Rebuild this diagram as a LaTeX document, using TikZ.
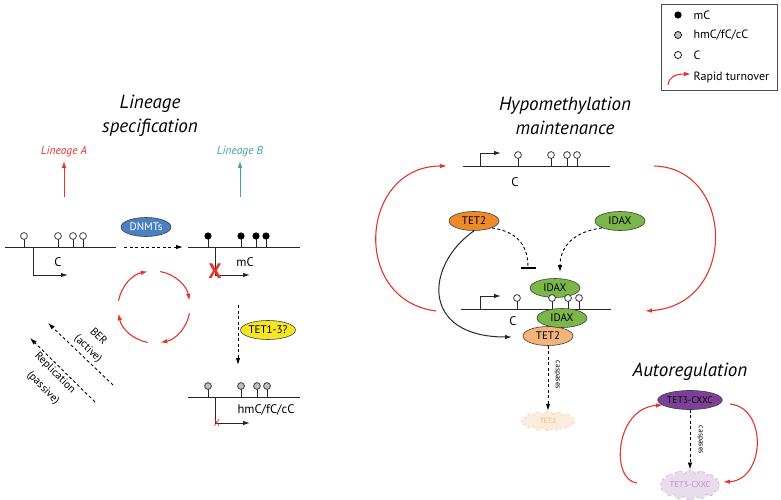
\documentclass[tikz,border=0pt]{standalone}
\usepackage{fontspec}
\setmainfont{PT Sans}
\usetikzlibrary{arrows.meta,shapes.geometric,shapes.symbols,positioning}

\definecolor{turnred}{HTML}{E8332A}
\definecolor{linteal}{HTML}{3AA89A}
\definecolor{dnmtblue}{HTML}{4A80C2}
\definecolor{tetyellow}{HTML}{F4E525}
\definecolor{tetorange}{HTML}{EF8A2A}
\definecolor{tetlight}{HTML}{F3B37C}
\definecolor{idaxgreen}{HTML}{7AB648}
\definecolor{cxxcpurple}{HTML}{7E3F99}

\tikzset{
  dnaline/.style={line width=1pt, black!85},
  prom/.style={line width=1pt, black!85, ->},
  stem/.style={line width=0.7pt, black!85},
  prot/.style={ellipse, draw=black!75, line width=0.6pt, minimum width=50pt,
    minimum height=19pt, inner sep=0pt, font=\fontsize{11}{12}\selectfont},
  faded/.style={cloud, cloud puffs=16, aspect=2.6, dashed, line width=0.5pt,
    minimum width=54pt, minimum height=20pt, inner sep=0pt, font=\fontsize{7.5}{8}\selectfont},
  turn/.style={draw=turnred, line width=1.1pt, ->},
  dashy/.style={line width=0.9pt, dash pattern=on 3pt off 2.5pt},
  sect/.style={font=\fontsize{19}{24}\selectfont\itshape, align=center},
  lbl/.style={font=\fontsize{12.5}{13}\selectfont},
  slant/.style={font=\fontsize{11}{12}\selectfont, rotate=-45, inner sep=1pt},
  tiny/.style={font=\fontsize{7.5}{8}\selectfont, rotate=-90},
}

\begin{document}
\begin{tikzpicture}[x=1pt, y=1pt, >={Latex[length=7pt,width=4.5pt]}]
    \useasboundingbox (0,0) rectangle (781,-500);
    % Legend
    \draw [black!70, line width=0.8pt] (661,-4) rectangle (777,-90);
    \fill [black] (678,-15) circle[radius=3.6pt];
    \draw [fill=black!25, line width=0.7pt] (678,-35) circle[radius=3.5pt];
    \draw [fill=white, line width=0.7pt] (678,-55) circle[radius=3.5pt];
    \node [lbl, right, font=\fontsize{12}{13}\selectfont] (legmc) at (690,-15) {mC};
    \node [lbl, right, font=\fontsize{12}{13}\selectfont] (leghmc) at (690,-35) {hmC/fC/cC};
    \node [lbl, right, font=\fontsize{12}{13}\selectfont] (legc) at (690,-55) {C};
    \node [lbl, right, font=\fontsize{12}{13}\selectfont] (legturn) at (690,-77) {Rapid turnover};
    \coordinate (legtail) at (668,-85);
    \coordinate (leghead) at (691,-74);
    \draw [turn] (legtail) .. controls (669,-77) and (675,-74) .. (leghead);

    % Lineage specification
    \node [sect] (lintitle) at (150,-116) {Lineage\\specification};
    \node [turnred, font=\fontsize{11.5}{12}\selectfont\itshape] (linA) at (64,-152) {Lineage A};
    \node [linteal, font=\fontsize{11.5}{12}\selectfont\itshape] (linB) at (240,-152) {Lineage B};
    \coordinate (arrA) at (64,-197);
    \coordinate (arrB) at (240,-197);
    \draw [->, turnred, line width=1pt] (arrA) -- (linA);
    \draw [->, linteal, line width=1pt] (arrB) -- (linB);

    % unmethylated gene
    \coordinate (d1a) at (5,-247);
    \coordinate (d1b) at (116,-247);
    \draw [dnaline] (d1a) -- (d1b);
    \foreach \x in {24,58,73,83} {
        \draw [stem] (\x,-247) -- (\x,-239);
        \draw [stem, fill=white] (\x,-236) circle[radius=3.4pt];
    }
    \coordinate (p1) at (33,-247);
    \coordinate (p1e) at (68,-275);
    \draw [prom] (p1) |- (p1e);
    \node [lbl] (c1) at (58,-262) {C};

    \node [prot, fill=dnmtblue, text=white] (dnmt) at (146,-227) {DNMTs};
    \coordinate (m1a) at (124,-247);
    \coordinate (m1b) at (183,-247);
    \draw [dashy, ->] (m1a) -- (m1b);

    % methylated gene
    \coordinate (d2a) at (188,-247);
    \coordinate (d2b) at (300,-247);
    \draw [dnaline] (d2a) -- (d2b);
    \foreach \x in {208,241,256,266} {
        \draw [stem] (\x,-247) -- (\x,-239);
        \fill [black] (\x,-236) circle[radius=3.6pt];
    }
    \coordinate (p2) at (215,-247);
    \coordinate (p2e) at (250,-275);
    \draw [prom] (p2) |- (p2e);
    \node [text=turnred, font=\fontsize{21}{21}\selectfont\bfseries] (bigx) at (215,-271) {X};
    \node [lbl] (mc2) at (245,-262) {mC};

    % turnover cycle
    \coordinate (cyc) at (154,-307);
    \draw [turn] (cyc) ++(170:36) arc[start angle=170, end angle=100, radius=36];
    \draw [turn] (cyc) ++(80:36) arc[start angle=80, end angle=10, radius=36];
    \draw [turn] (cyc) ++(-10:36) arc[start angle=-10, end angle=-80, radius=36];
    \draw [turn] (cyc) ++(-100:36) arc[start angle=-100, end angle=-170, radius=36];

    % demethylation
    \node [prot, fill=tetyellow] (tet13) at (268,-330) {TET1-3?};
    \coordinate (t1a) at (238,-305);
    \coordinate (t1b) at (238,-365);
    \draw [dashy, ->] (t1a) -- (t1b);

    \coordinate (bera) at (113,-385);
    \coordinate (berb) at (48,-323);
    \coordinate (repa) at (95,-402);
    \coordinate (repb) at (30,-338);
    \draw [dashy, ->] (bera) -- (berb);
    \draw [dashy, ->] (repa) -- (repb);
    \node [slant] (ber) at (99,-336) {BER};
    \node [slant] (beract) at (88,-349) {(active)};
    \node [slant] (rep) at (55,-373) {Replication};
    \node [slant] (reppas) at (43,-388) {(passive)};

    % oxidised gene
    \coordinate (d3a) at (188,-397);
    \coordinate (d3b) at (300,-397);
    \draw [dnaline] (d3a) -- (d3b);
    \foreach \x in {208,241,257,267} {
        \draw [stem] (\x,-397) -- (\x,-389);
        \draw [stem, fill=black!25] (\x,-386) circle[radius=3.4pt];
    }
    \coordinate (p3) at (215,-397);
    \coordinate (p3e) at (250,-423);
    \draw [prom] (p3) |- (p3e);
    \node [text=turnred, font=\fontsize{10}{10}\selectfont] (smallx) at (217,-423) {X};
    \node [lbl] (hmc3) at (266,-410) {hmC/fC/cC};

    % Hypomethylation maintenance
    \node [sect] (hyptitle) at (565,-116) {Hypomethylation\\maintenance};
    \coordinate (d4a) at (463,-166);
    \coordinate (d4b) at (610,-166);
    \draw [dnaline] (d4a) -- (d4b);
    \coordinate (p4) at (480,-166);
    \coordinate (p4e) at (501,-153);
    \draw [prom] (p4) |- (p4e);
    \foreach \x in {518,551,567,577} {
        \draw [stem] (\x,-166) -- (\x,-158);
        \draw [stem, fill=white] (\x,-155) circle[radius=3.4pt];
    }
    \node [lbl] (c4) at (515,-182) {C};

    \coordinate (lta) at (436,-311);
    \coordinate (ltb) at (447,-166);
    \coordinate (rta) at (654,-166);
    \coordinate (rtb) at (645,-311);
    \draw [turn] (lta) .. controls (350,-300) and (360,-166) .. (ltb);
    \draw [turn] (rta) .. controls (735,-168) and (738,-305) .. (rtb);

    \node [prot, fill=tetorange] (tet2) at (474,-221) {TET2};
    \node [prot, fill=idaxgreen] (idax) at (620,-221) {IDAX};
    \coordinate (inh) at (528,-269);
    \coordinate (idaxin) at (560,-272);
    \coordinate (tet2in) at (512,-337);
    \draw [dashy, -{Bar[width=15pt, line width=1.6pt]}] (tet2.south east) .. controls (520,-232) and (528,-248) .. (inh);
    \draw [dashy, ->] (idax.south west) .. controls (570,-232) and (560,-250) .. (idaxin);
    \draw [line width=1pt, black!85, ->] (tet2.south) .. controls (425,-265) and (420,-337) .. (tet2in);

    \node [prot, fill=idaxgreen] (idaxtop) at (555,-288) {IDAX};
    \coordinate (d5a) at (461,-309);
    \coordinate (d5b) at (611,-309);
    \draw [dnaline] (d5a) -- (d5b);
    \coordinate (p5) at (480,-309);
    \coordinate (p5e) at (501,-296);
    \draw [prom] (p5) |- (p5e);
    \foreach \x in {517,552,568,579} {
        \draw [stem] (\x,-309) -- (\x,-301);
        \draw [stem, fill=white] (\x,-298) circle[radius=3.4pt];
    }
    \node [lbl] (c5) at (513,-321) {C};
    \node [prot, fill=tetlight] (tet2b) at (548,-336) {TET2};
    \node [prot, fill=idaxgreen] (idaxbot) at (562,-318) {IDAX};

    \node [faded, draw=tetlight!70, fill=tetlight!25, text=tetlight] (tet2gone) at (548,-421) {TET2};
    \draw [dashy, ->] (tet2b) -- (tet2gone);
    \node [tiny] (casp1) at (557,-375) {caspases};

    % Autoregulation
    \node [sect] (autotitle) at (690,-372) {Autoregulation};
    \node [prot, fill=cxxcpurple, font=\fontsize{9.5}{10}\selectfont] (cxxc) at (690,-400) {TET3-CXXC};
    \node [faded, draw=cxxcpurple!40, fill=cxxcpurple!18, text=cxxcpurple!55, font=\fontsize{8.5}{9}\selectfont] (cxxcgone) at (690,-485) {TET3-CXXC};
    \draw [dashy, ->] (cxxc) -- (cxxcgone);
    \node [tiny] (casp2) at (700,-440) {caspases};
    \coordinate (ala) at (637,-483);
    \coordinate (alb) at (663,-405);
    \coordinate (ara) at (730,-404);
    \coordinate (arb) at (723,-482);
    \draw [turn] (ala) .. controls (610,-480) and (615,-408) .. (alb);
    \draw [turn] (ara) .. controls (768,-408) and (765,-480) .. (arb);
\end{tikzpicture}
\end{document}
